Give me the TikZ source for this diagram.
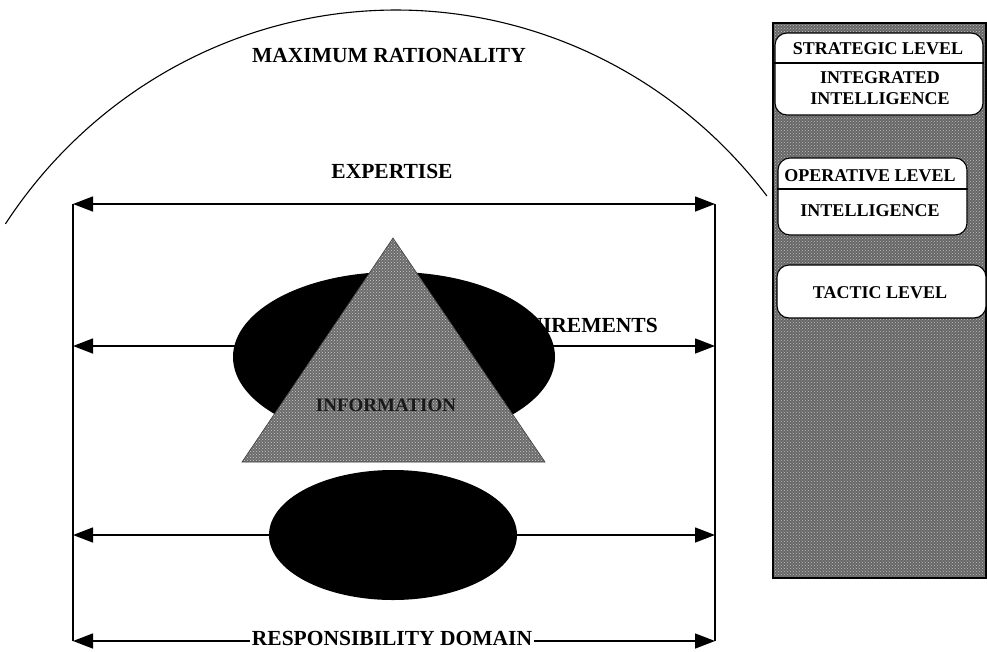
\documentclass[tikz,border=0pt]{standalone}
\usepackage{fontspec}
\setmainfont{Liberation Serif}
\usetikzlibrary{arrows.meta,patterns,shapes.geometric}
\tikzset{
  bigarrow/.style={{Triangle[length=20pt,width=15pt]}-{Triangle[length=20pt,width=15pt]}, line width=1.4pt},
  frameline/.style={line width=1.4pt},
  mainlabel/.style={font=\fontsize{21.5}{23}\selectfont\bfseries, inner sep=1pt},
  panellabel/.style={font=\fontsize{18}{20}\selectfont\bfseries, inner sep=0pt},
  lvlbox/.style={draw, line width=1.1pt, fill=white, rounded corners=12pt, inner sep=0pt},
  blob/.style={ellipse, fill=black, inner sep=0pt},
}
\begin{document}
\begin{tikzpicture}[x=1pt,y=-1pt]
\useasboundingbox (0,0) rectangle (987,651);

% arc of maximum rationality
\draw[line width=1.1pt] plot[domain=213.8:322.1, samples=120, smooth] ({396+470*cos(\x)},{492+482*sin(\x)});
\node[mainlabel] (maxr) at (389,55) {MAXIMUM RATIONALITY};
\node[mainlabel] (exp) at (392,171) {EXPERTISE};

% frame corners
\coordinate (tl) at (73,204);
\coordinate (tr) at (715,204);
\coordinate (bl) at (73,641);
\coordinate (br) at (715,641);
\coordinate (ml) at (73,346);
\coordinate (mr) at (715,346);
\coordinate (ll) at (73,535);
\coordinate (lr) at (715,535);

\draw[frameline] (tl) -- (bl);
\draw[frameline] (tr) -- (br);
\draw[bigarrow] (tl) -- (tr);
\draw[bigarrow] (ml) -- (mr);
\draw[bigarrow] (ll) -- (lr);
\draw[bigarrow] (bl) -- (br);

\node[mainlabel, anchor=east] (req) at (659,327) {REQUIREMENTS};

% upper ellipse and triangle
\node[blob, minimum width=322pt, minimum height=170pt] (e1) at (394,357) {};
\coordinate (apex) at (393,238);
\coordinate (bleft) at (242,462);
\coordinate (bright) at (545,462);
\fill[black!58] (apex) -- (bleft) -- (bright) -- cycle;
\fill[pattern=crosshatch dots, pattern color=white!80!black] (apex) -- (bleft) -- (bright) -- cycle;
\draw[line width=0.6pt, black!75] (apex) -- (bleft) -- (bright) -- cycle;
\node[font=\fontsize{19}{21}\selectfont\bfseries, text=black!90] (info) at (386,405) {INFORMATION};

% lower ellipse
\node[blob, minimum width=248pt, minimum height=130pt] (e2) at (393,535) {};

\node[mainlabel, fill=white, inner xsep=2pt, inner ysep=0pt] (resp) at (392,638) {RESPONSIBILITY DOMAIN};

% right panel
\fill[black!60] (773,23) rectangle (986,578);
\fill[pattern=crosshatch dots, pattern color=white!75!black] (773,23) rectangle (986,578);
\draw[line width=1.4pt] (773,23) rectangle (986,578);

\node[lvlbox, minimum width=208pt, minimum height=82pt] (b1) at (879,74) {};
\draw[line width=1.1pt] (b1.west |- 0,63) -- (b1.east |- 0,63);
\node[panellabel] (s1) at (878,49) {STRATEGIC LEVEL};
\node[panellabel] (s2) at (880,78) {INTEGRATED};
\node[panellabel] (s3) at (880,99) {INTELLIGENCE};

\node[lvlbox, minimum width=189pt, minimum height=77pt] (b2) at (872.5,196.5) {};
\draw[line width=1.1pt] (b2.west |- 0,189) -- (b2.east |- 0,189);
\node[panellabel] (o1) at (870,176) {OPERATIVE LEVEL};
\node[panellabel] (o2) at (870,211) {INTELLIGENCE};

\node[lvlbox, minimum width=209pt, minimum height=53pt] (b3) at (881.5,291.5) {};
\node[panellabel] (t1) at (880,293) {TACTIC LEVEL};
\end{tikzpicture}
\end{document}
